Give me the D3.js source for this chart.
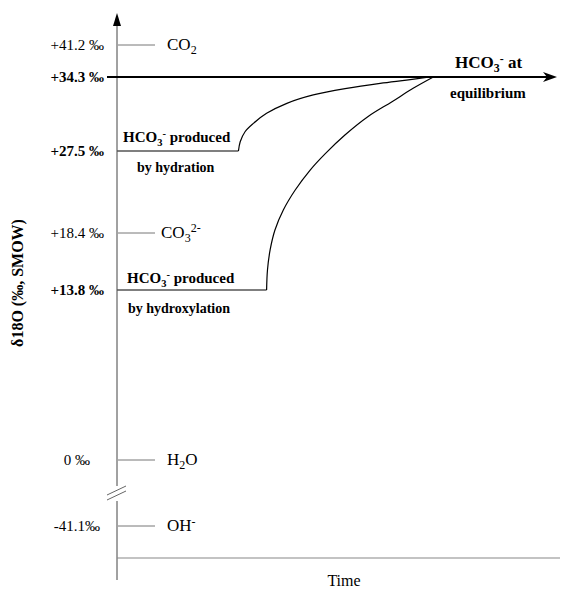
<!DOCTYPE html>
<html>
<head>
<meta charset="utf-8">
<script src="https://cdn.jsdelivr.net/npm/d3@7"></script>
<style>
  body { margin: 0; background: #fff; }
  svg { display: block; font-family: 'Liberation Serif', 'Times New Roman', serif; }
</style>
</head>
<body>
<div id="chart"></div>
<script>
// levels on the δ18O axis (‰ SMOW), schematic spacing
const levels = [41.2, 34.3, 27.5, 18.4, 13.8, 0, -41.1]
const levelLabels = ['+41.2 ‰', '+34.3 ‰', '+27.5 ‰', '+18.4 ‰', '+13.8 ‰', '0 ‰', '-41.1‰']
const levelBold = [false, true, true, false, true, false, false]

// reference species drawn as short ticks
const speciesValues = [41.2, 18.4, 0, -41.1]
const speciesNames = [
  [['CO', 0], ['2', 1]],
  [['CO', 0], ['3', 1], ['2-', 2]],
  [['H', 0], ['2', 1], ['O', 0]],
  [['OH', 0], ['-', 2]]
]

const equilibrium = 34.3
const timeEnd = 10

// [time, δ18O]
const hydration = [
  [0, 27.5], [2.76, 27.5], [2.8, 28.35], [2.91, 29.27], [3.1, 30.04], [3.4, 30.96],
  [3.86, 31.88], [4.46, 32.65], [5.22, 33.26], [5.98, 33.72], [6.58, 34.02], [7.11, 34.3]
]
const hydroxylation = [
  [0, 13.8], [3.4, 13.8], [3.42, 15.41], [3.48, 17.03], [3.59, 18.73], [3.78, 20.95],
  [4.05, 23.17], [4.39, 25.39], [4.74, 27.24], [5.18, 28.97], [5.7, 30.65],
  [6.25, 32.03], [6.73, 33.26], [7.19, 34.3]
]

const W = 562, H = 589
const axisX = 117, axisTop = 13, axisBottom = 580, xAxisY = 558
const breakTop = 486, breakBottom = 501

const svg = d3.select('#chart').append('svg').attr('width', W).attr('height', H)

const x = d3.scaleLinear().domain([0, timeEnd]).range([axisX, 557])
// piecewise schematic scale
const y = d3.scaleLinear().domain(levels).range([45, 77, 151, 233, 290, 460, 526])

// y axis with break
svg.append('line').attr('x1', axisX).attr('x2', axisX).attr('y1', axisTop + 10).attr('y2', breakTop)
  .attr('stroke', '#444').attr('stroke-width', 1)
svg.append('line').attr('x1', axisX).attr('x2', axisX).attr('y1', breakBottom).attr('y2', axisBottom)
  .attr('stroke', '#444').attr('stroke-width', 1)
svg.append('path')
  .attr('d', `M${axisX},${axisTop} L${axisX - 4},${axisTop + 13} L${axisX + 4},${axisTop + 13} Z`)
  .attr('fill', '#000')
;[0, 5].forEach(o => {
  svg.append('line').attr('x1', axisX - 10).attr('y1', breakTop + 9 + o)
    .attr('x2', axisX + 9).attr('y2', breakTop + o)
    .attr('stroke', '#666').attr('stroke-width', 1)
})

// x axis
svg.append('line').attr('x1', axisX).attr('x2', 560).attr('y1', xAxisY).attr('y2', xAxisY)
  .attr('stroke', '#888').attr('stroke-width', 1.2)
svg.append('text').attr('x', 344).attr('y', 586).attr('text-anchor', 'middle')
  .attr('font-size', 16).text('Time')

// y label
svg.append('text').attr('transform', 'translate(23,283) rotate(-90)')
  .attr('text-anchor', 'middle').attr('font-size', 16).attr('font-weight', 'bold')
  .text('δ18O (‰, SMOW)')

// level labels
svg.selectAll('.lvl').data(levels).enter().append('text')
  .attr('class', 'lvl')
  .attr('x', d => d === 0 ? 90 : (d < 0 ? 100 : 104))
  .attr('y', d => y(d) + 5)
  .attr('text-anchor', 'end')
  .attr('font-size', 15)
  .attr('font-weight', (d, i) => levelBold[i] ? 'bold' : 'normal')
  .text((d, i) => levelLabels[i])

// species ticks and names
speciesValues.forEach((v, i) => {
  svg.append('line').attr('x1', axisX + 1).attr('x2', axisX + 38)
    .attr('y1', y(v)).attr('y2', y(v)).attr('stroke', '#777').attr('stroke-width', 1)
  const t = svg.append('text').attr('x', i === 1 ? 161 : 167).attr('y', y(v) + 5)
    .attr('font-size', 17)
  speciesNames[i].forEach(([s, k]) => {
    const ts = t.append('tspan').text(s)
    if (k === 1) ts.attr('font-size', 12).attr('dy', 4)
    if (k === 2) ts.attr('font-size', 12).attr('dy', speciesNames[i].length > 2 ? -10 : -5)
    if (k === 0 && t.selectAll('tspan').size() > 1) ts.attr('dy', -4)
  })
})

// equilibrium arrow
svg.append('line').attr('x1', axisX - 10).attr('x2', x(timeEnd) - 8)
  .attr('y1', y(equilibrium)).attr('y2', y(equilibrium))
  .attr('stroke', '#000').attr('stroke-width', 2)
svg.append('path')
  .attr('d', `M${x(timeEnd)},${y(equilibrium)} L${x(timeEnd) - 14},${y(equilibrium) - 5} L${x(timeEnd) - 10},${y(equilibrium)} L${x(timeEnd) - 14},${y(equilibrium) + 5} Z`)
  .attr('fill', '#000')

const line = d3.line().x(d => x(d[0])).y(d => y(d[1])).curve(d3.curveCatmullRom.alpha(0.5))

;[hydration, hydroxylation].forEach(s => {
  svg.append('line').attr('x1', x(s[0][0])).attr('x2', x(s[1][0]))
    .attr('y1', y(s[0][1])).attr('y2', y(s[1][1]))
    .attr('stroke', '#555').attr('stroke-width', 1.6)
  svg.append('path').datum(s.slice(1)).attr('d', line)
    .attr('fill', 'none').attr('stroke', '#000').attr('stroke-width', 1.2)
})

// annotations
function hco3(g, xx, yy, size, rest) {
  const t = g.append('text').attr('x', xx).attr('y', yy).attr('font-size', size)
    .attr('font-weight', 'bold')
  t.append('tspan').text('HCO')
  t.append('tspan').text('3').attr('font-size', size * 0.7).attr('dy', 4)
  t.append('tspan').text('-').attr('font-size', size * 0.7).attr('dy', -9)
  t.append('tspan').text(rest).attr('dy', 5)
  return t
}
hco3(svg, 123, 142, 15, ' produced')
svg.append('text').attr('x', 137).attr('y', 172).attr('font-size', 14).attr('font-weight', 'bold')
  .text('by hydration')
hco3(svg, 127, 283, 15, ' produced')
svg.append('text').attr('x', 128).attr('y', 313).attr('font-size', 14).attr('font-weight', 'bold')
  .text('by hydroxylation')
hco3(svg, 455, 68, 17, ' at')
svg.append('text').attr('x', 450).attr('y', 98).attr('font-size', 15).attr('font-weight', 'bold')
  .text('equilibrium')
</script>
</body>
</html>
